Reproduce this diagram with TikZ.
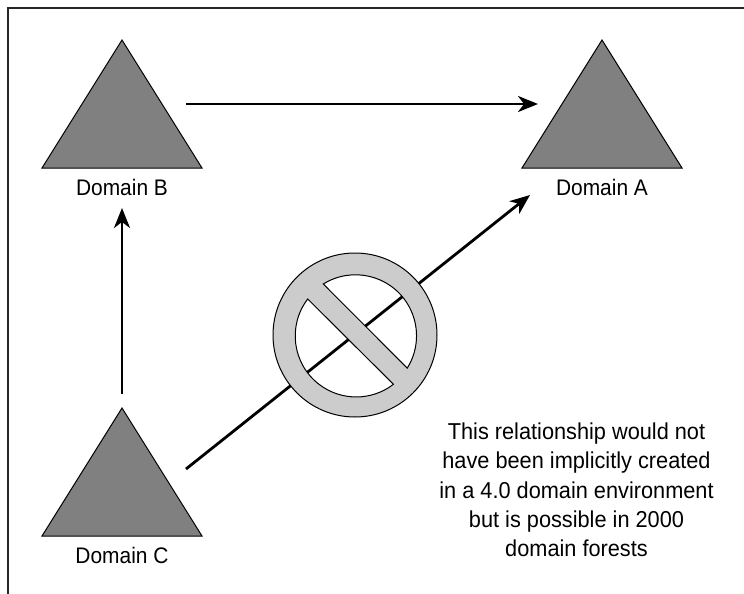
\documentclass[tikz,border=0pt]{standalone}
\usepackage{fontspec}
\setmainfont[FakeStretch=0.93]{Liberation Sans}
\newfontfamily\notefont[FakeStretch=0.945]{Liberation Sans}
\usetikzlibrary{arrows.meta}
\definecolor{domaingray}{HTML}{808080}
\definecolor{ringgray}{HTML}{CCCCCC}
\tikzset{
  domtri/.style={draw=black,fill=domaingray,line width=1pt,line join=miter},
  link/.style={line width=2.8pt,-{Stealth[length=20pt,width=16pt,inset=6pt]}},
  txt/.style={font=\fontsize{22.5}{28.5}\selectfont,text=black,inner sep=0pt,align=center},
  notetxt/.style={font=\notefont\fontsize{23}{29.3}\selectfont,text=black,inner sep=0pt,align=center},
}
\begin{document}
\begin{tikzpicture}[x=1pt,y=-1pt]
\useasboundingbox (0,0) rectangle (744,594);
\fill[white] (0,0) rectangle (744,594);
\draw[line width=1.2pt,draw=black!85] (8,594) -- (8,8) -- (744,8);
% triangles
\draw[domtri] (122,40) -- (202,168) -- (42,168) -- cycle;
\draw[domtri] (602,40) -- (682,168) -- (522,168) -- cycle;
\draw[domtri] (122,408) -- (202,536) -- (42,536) -- cycle;
% labels
\node[txt,anchor=base] (lb) at (122,195) {Domain B};
\node[txt,anchor=base] (la) at (602,195) {Domain A};
\node[txt,anchor=base] (lc) at (122,563) {Domain C};
\node[notetxt,anchor=center] (note) at (576.5,490) {This relationship would not\\have been implicitly created\\in a 4.0 domain environment\\but is possible in 2000\\domain forests};
% connector ends
\coordinate (bout) at (186,104);
\coordinate (ain) at (538,104);
\coordinate (cup) at (122,394);
\coordinate (bin) at (122,208);
\coordinate (cout) at (186,469);
\coordinate (ain2) at (530,195);
\draw[link] (bout) -- (ain);
\draw[link] (cup) -- (bin);
\draw[link] (cout) -- (ain2);
% prohibition sign
\coordinate (sign) at (355,335);
\draw[line width=1pt,fill=ringgray,even odd rule]
  (sign) circle[radius=82]
  (307.7,299) arc[start angle=217.3,end angle=52.4,radius=61] -- cycle
  (323.3,284) arc[start angle=-121.9,end angle=32,radius=61] -- cycle;
\end{tikzpicture}
\end{document}
